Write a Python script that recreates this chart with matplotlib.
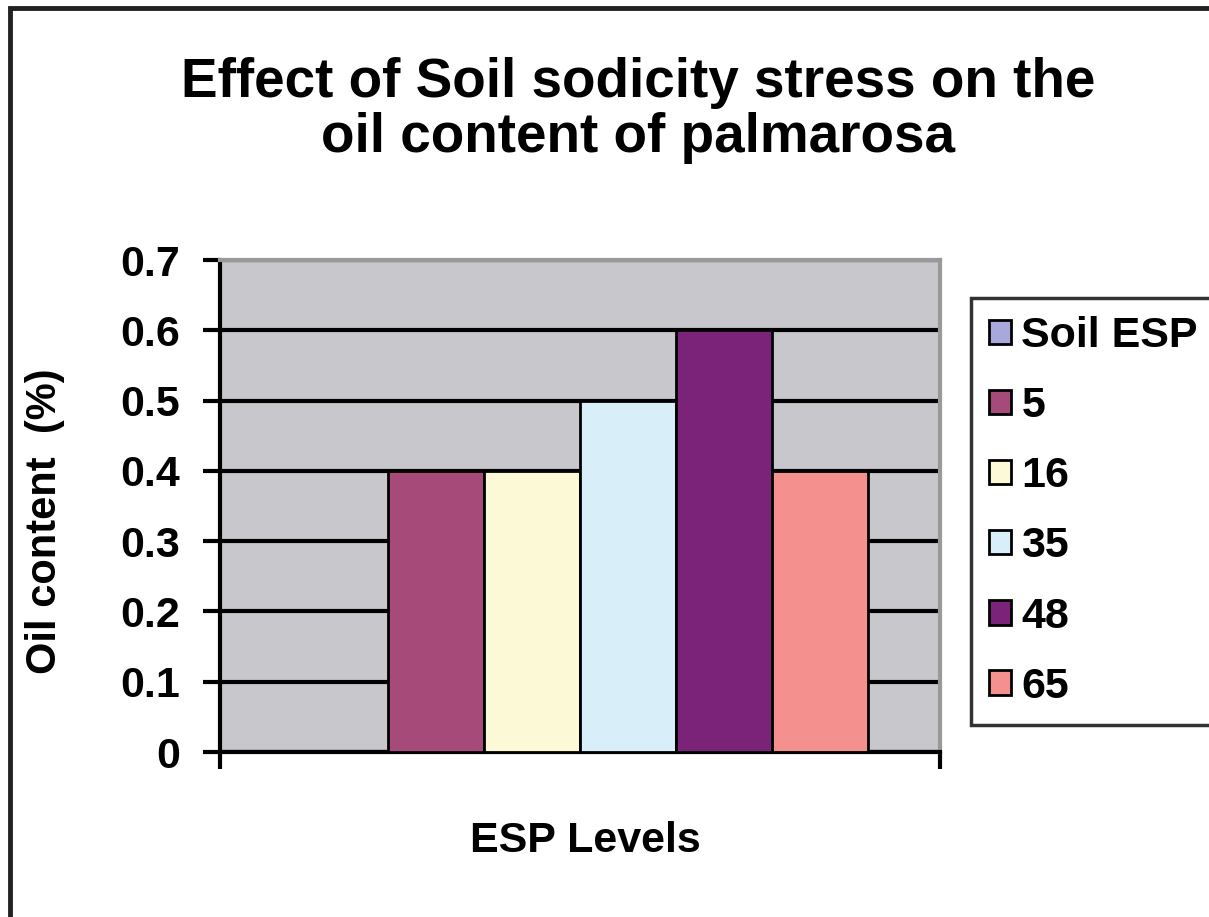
import numpy as np
import matplotlib
matplotlib.use("Agg")
import matplotlib.pyplot as plt
from matplotlib.patches import Rectangle

#
# --- Data
#
SERIES = ["Soil ESP", "5", "16", "35", "48", "65"]
OIL_CONTENT = [0.0, 0.4, 0.4, 0.5, 0.6, 0.4]
COLORS = ["#A8A8DC", "#A64A7A", "#FCF9D6", "#D8EEF8", "#7B2378", "#F4918F"]
Y_TICKS = [0, 0.1, 0.2, 0.3, 0.4, 0.5, 0.6, 0.7]

plt.rcParams["font.family"] = ["Liberation Sans", "DejaVu Sans"]
plt.rcParams["font.weight"] = "bold"

W, H = 1209, 917
fig = plt.figure(figsize=(W / 100, H / 100), dpi=100)
ax = fig.add_axes([220 / W, 1 - 752 / H, 720 / W, 492 / H])

#
# --- Bars (one category, six series)
#
n = len(SERIES)
width = 0.8 / n
for i, (name, val, col) in enumerate(zip(SERIES, OIL_CONTENT, COLORS)):
    x = 0.5 + (i - (n - 1) / 2) * width
    ax.bar(x, val, width=width, color=col, edgecolor="black", linewidth=2,
           label=name, zorder=3)

ax.set_xlim(0, 1)
ax.set_ylim(0, 0.7)
ax.set_facecolor("#C8C8CC")
ax.set_yticks(Y_TICKS)
ax.set_yticklabels(["0" if t == 0 else f"{t:.1f}" for t in Y_TICKS], fontsize=31,
                   fontweight="bold")
ax.set_xticks([0, 1])
ax.set_xticklabels([])
ax.tick_params(axis="y", direction="out", length=12, width=3, pad=17)
ax.tick_params(axis="x", direction="out", length=12, width=3)
ax.grid(axis="y", color="black", linewidth=3, zorder=1)

for side in ["left", "bottom"]:
    ax.spines[side].set_linewidth(3)
    ax.spines[side].set_color("black")
for side in ["top", "right"]:
    ax.spines[side].set_linewidth(3)
    ax.spines[side].set_color("#999999")

ax.set_ylabel("Oil content  (%)", fontsize=30, fontweight="bold")
ax.yaxis.set_label_coords(-0.215, 0.47)
ax.set_xlabel("ESP Levels", fontsize=31, fontweight="bold")
ax.xaxis.set_label_coords(0.508, -0.14)

fig.text(0.528, 1 - 97 / H, "Effect of Soil sodicity stress on the",
         ha="center", va="baseline", fontsize=39.5, fontweight="bold")
fig.text(0.528, 1 - 152 / H, "oil content of palmarosa",
         ha="center", va="baseline", fontsize=39.5, fontweight="bold")

#
# --- Legend
#
leg = ax.legend(loc="upper left", bbox_to_anchor=(971 / W, 1 - 298 / H),
                bbox_transform=fig.transFigure, fontsize=31, frameon=True,
                fancybox=False, edgecolor="black", handlelength=0.5,
                handleheight=0.5, handletextpad=0.25, labelspacing=0.7,
                borderpad=0.42, borderaxespad=0)
leg.get_frame().set_linewidth(2.5)
for t in leg.get_texts():
    t.set_fontweight("bold")

#
# --- Outer frame
#
fig.patches.append(Rectangle((10 / W, -0.05), 1.2, 1 - 8 / H + 0.05,
                             transform=fig.transFigure, fill=False,
                             edgecolor="#222222", linewidth=3.5))

fig.savefig("out.png", dpi=100)
